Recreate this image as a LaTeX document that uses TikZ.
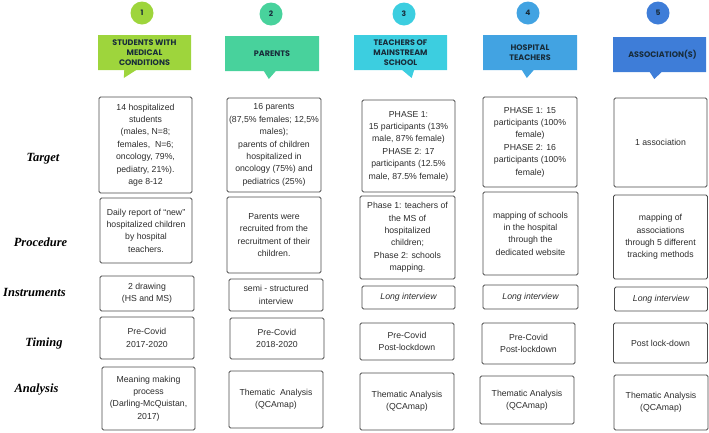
\documentclass[tikz,border=0pt]{standalone}
\usepackage{fontspec}
\setmainfont{Liberation Sans}
\newfontfamily\headfont{Poppins}
\newfontfamily\labelfont{Liberation Serif}
\usepackage{xcolor}
\usetikzlibrary{shapes.callouts}
\definecolor{grpA}{RGB}{158,213,60}
\definecolor{grpB}{RGB}{72,210,156}
\definecolor{grpC}{RGB}{60,206,224}
\definecolor{grpD}{RGB}{66,163,226}
\definecolor{grpE}{RGB}{62,125,216}
\definecolor{inkhead}{RGB}{24,44,58}
\definecolor{inkcell}{RGB}{45,45,45}
\tikzset{
  badge/.style={
    circle,
    minimum size=23pt,
    inner sep=0pt,
    text=inkhead,
    font=\headfont\bfseries\fontsize{7.5}{8}\selectfont
  },
  header/.style={
    rectangle callout,
    callout pointer width=12pt,
    minimum width=93pt,
    minimum height=35pt,
    inner sep=1pt,
    align=center,
    text=inkhead,
    font=\headfont\bfseries\fontsize{8}{10}\selectfont
  },
  cell/.style={
    draw=black!70,
    line width=0.8pt,
    rounded corners=1.5pt,
    fill=white,
    inner sep=1pt,
    align=center,
    text=inkcell,
    font=\fontsize{8.7}{12.4}\selectfont
  },
  rowlabel/.style={
    font=\labelfont\bfseries\itshape\fontsize{12.5}{14}\selectfont
  }
}

\begin{document}
\begin{tikzpicture}[x=1pt,y=1pt]
  \useasboundingbox (0,0) rectangle (709,-432);

  % numbered badges and group headers
  \node[badge,fill=grpA] (n1) at (142,-13) {1};
  \node[badge,fill=grpB] (n2) at (271,-14) {2};
  \node[badge,fill=grpC] (n3) at (404,-14) {3};
  \node[badge,fill=grpD] (n4) at (528,-13) {4};
  \node[badge,fill=grpE] (n5) at (658,-13) {5};

  \node[header,fill=grpA,callout relative pointer={(-6.5pt,-8pt)}] (students) at (144.5,-52.5) {STUDENTS WITH\\MEDICAL\\CONDITIONS};
  \node[header,fill=grpB,minimum width=94pt,callout relative pointer={(-1pt,-8pt)}] (parents) at (272,-53.5) {PARENTS};
  \node[header,fill=grpC,callout relative pointer={(3.5pt,-8pt)}] (mainstream) at (400.5,-52.5) {TEACHERS OF\\MAINSTREAM\\SCHOOL};
  \node[header,fill=grpD,minimum width=94pt,callout relative pointer={(-1pt,-8pt)}] (hospital) at (530,-52.5) {HOSPITAL\\TEACHERS};
  \node[header,fill=grpE,callout relative pointer={(-1.5pt,-7pt)}] (assoc) at (659.5,-54.5) {\hspace*{6pt}ASSOCIATION(S)};

  % row labels
  \node[rowlabel] (lbTarget) at (43,-159) {Target};
  \node[rowlabel] (lbProcedure) at (40.5,-242) {Procedure};
  \node[rowlabel] (lbInstruments) at (34.5,-292) {Instruments};
  \node[rowlabel] (lbTiming) at (44,-343) {Timing};
  \node[rowlabel] (lbAnalysis) at (36.5,-390) {Analysis};

  % target
  \node[cell,minimum width=93pt,minimum height=96pt] (target1) at (145.5,-145) {14 hospitalized\\students\\(males, N=8;\\females,\ \ N=6;\\oncology, 79\%,\\pediatry, 21\%).\\age 8-12};
  \node[cell,minimum width=94pt,minimum height=94pt] (target2) at (274,-145) {16 parents\\(87,5\% females; 12,5\%\\males);\\parents of children\\hospitalized in\\oncology (75\%) and\\pediatrics (25\%)};
  \node[cell,minimum width=93pt,minimum height=92pt] (target3) at (408.5,-146) {PHASE 1:\\15 participants (13\%\\male, 87\% female)\\PHASE 2: 17\\participants (12.5\%\\male, 87.5\% female)};
  \node[cell,minimum width=94pt,minimum height=90pt] (target4) at (530,-142) {PHASE 1: 15\\participants (100\%\\female)\\PHASE 2: 16\\participants (100\%\\female)};
  \node[cell,minimum width=93pt,minimum height=89pt] (target5) at (660.5,-142.5) {1 association};

  % procedure
  \node[cell,minimum width=92pt,minimum height=65pt] (proc1) at (146,-230.5) {Daily report of ``new''\\hospitalized children\\by hospital\\teachers.};
  \node[cell,minimum width=94pt,minimum height=76pt] (proc2) at (274,-235) {Parents were\\recruited from the\\recruitment of their\\children.};
  \node[cell,minimum width=95pt,minimum height=83pt] (proc3) at (407.5,-237.5) {Phase 1: teachers of\\the MS of\\hospitalized\\children;\\Phase 2: schools\\mapping.};
  \node[cell,minimum width=95pt,minimum height=83pt] (proc4) at (530.5,-233.5) {mapping of schools\\in the hospital\\through the\\dedicated website};
  \node[cell,minimum width=94pt,minimum height=84pt] (proc5) at (660.5,-237) {mapping of\\associations\\through 5 different\\tracking methods};

  % instruments
  \node[cell,minimum width=94pt,minimum height=35pt] (instr1) at (147,-293.5) {2 drawing\\(HS and MS)};
  \node[cell,minimum width=94pt,minimum height=32pt] (instr2) at (276,-295) {semi - structured\\interview};
  \node[cell,minimum width=93pt,minimum height=23pt] (instr3) at (408.5,-297.5) {\itshape Long interview};
  \node[cell,minimum width=95pt,minimum height=24pt] (instr4) at (530.5,-297) {\itshape Long interview};
  \node[cell,minimum width=93pt,minimum height=24pt] (instr5) at (661,-299) {\itshape Long interview};

  % timing
  \node[cell,minimum width=94pt,minimum height=42pt] (time1) at (147,-338) {Pre-Covid\\2017-2020};
  \node[cell,minimum width=94pt,minimum height=41pt] (time2) at (277,-338.5) {Pre-Covid\\2018-2020};
  \node[cell,minimum width=94pt,minimum height=37pt] (time3) at (407,-341.5) {Pre-Covid\\Post-lockdown};
  \node[cell,minimum width=93pt,minimum height=41pt] (time4) at (528.5,-343.5) {Pre-Covid\\Post-lockdown};
  \node[cell,minimum width=94pt,minimum height=40pt] (time5) at (660.5,-343) {Post lock-down};

  % analysis
  \node[cell,minimum width=93pt,minimum height=63pt] (anal1) at (148.5,-398.5) {Meaning making\\process\\(Darling-McQuistan,\\2017)};
  \node[cell,minimum width=94pt,minimum height=57pt] (anal2) at (276,-399.5) {Thematic\ \ Analysis\\(QCAmap)};
  \node[cell,minimum width=94pt,minimum height=57pt] (anal3) at (407,-401.5) {Thematic Analysis\\(QCAmap)};
  \node[cell,minimum width=94pt,minimum height=48pt] (anal4) at (527,-400) {Thematic Analysis\\(QCAmap)};
  \node[cell,minimum width=94pt,minimum height=55pt] (anal5) at (661,-402.5) {Thematic Analysis\\(QCAmap)};
\end{tikzpicture}
\end{document}
